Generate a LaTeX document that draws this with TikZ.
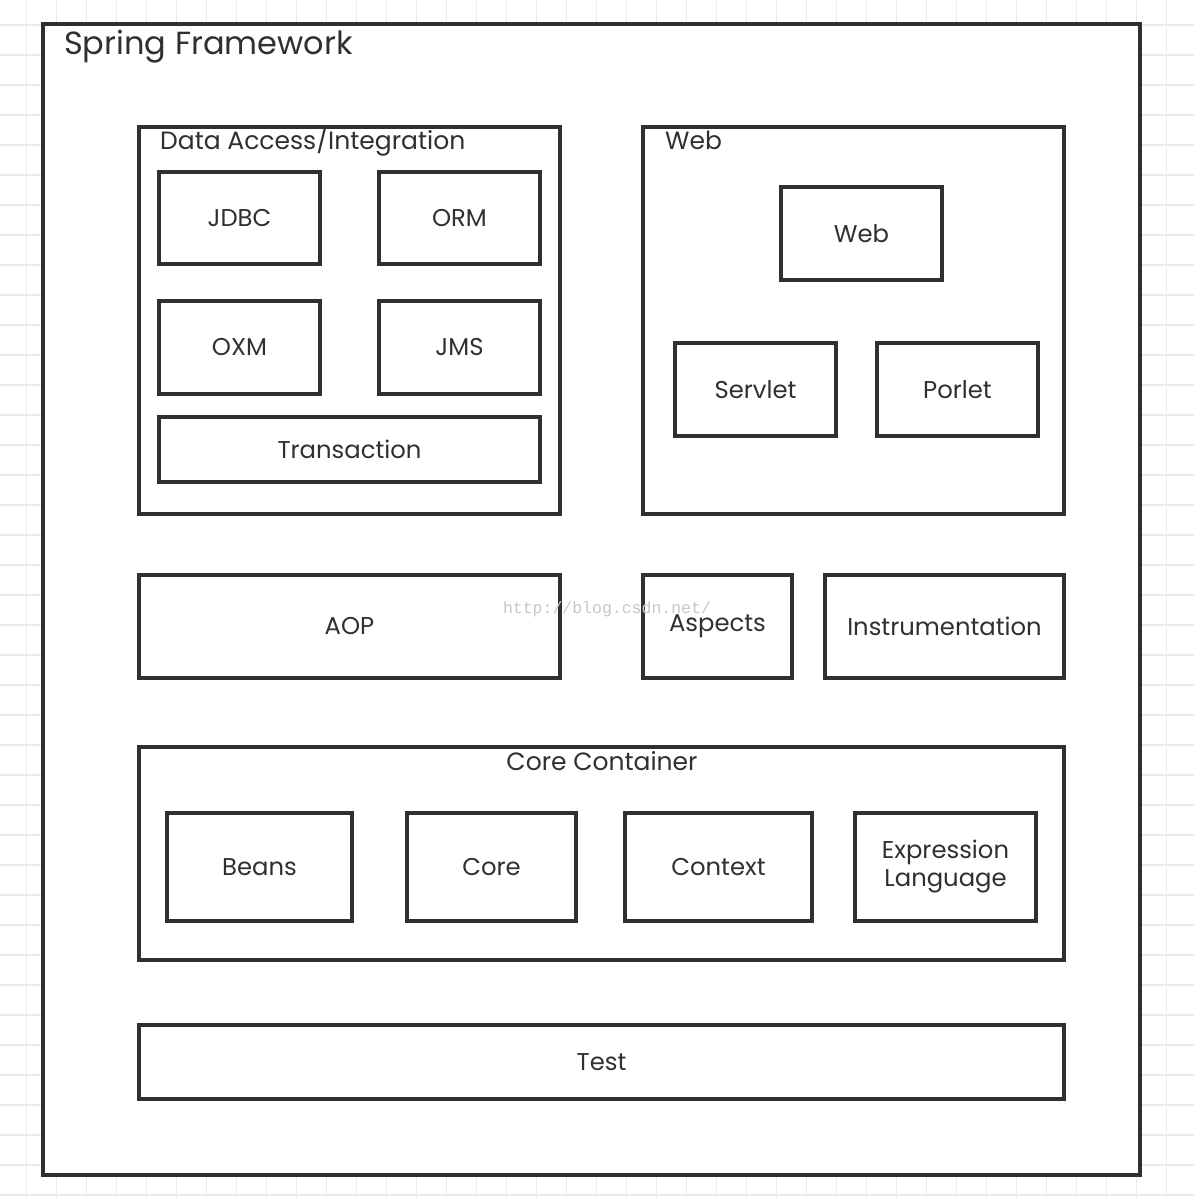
\documentclass[tikz,border=0pt]{standalone}
\usepackage{fontspec}
\setmainfont{Poppins}
\newfontfamily\wmfont{Liberation Mono}
\definecolor{linec}{HTML}{303030}
\definecolor{gridc}{HTML}{EBEBEB}
\tikzset{
 box/.style={draw=linec,line width=3.8pt,fill=white,inner sep=0pt,text=linec,
  font=\fontsize{24.3}{28}\selectfont,align=center},
 grp/.style={draw=linec,line width=3.8pt,inner sep=0pt},
 lbl/.style={anchor=base west,inner sep=0pt,text=linec,font=\fontsize{25}{29}\selectfont},
}
\begin{document}
\begin{tikzpicture}[x=1pt,y=-1pt]
 \useasboundingbox (0,0) rectangle (1194,1198);
 \fill[white] (0,0) rectangle (1194,1198);
 % grid
 \foreach \i in {0,...,39} {
  \draw[gridc,line width=1.5pt] ({26.7+30*\i},0)--++(0,1198);
  \draw[gridc,line width=1.5pt] (0,{25+30*\i})--++(1194,0);
 }
 \node[grp,fill=white,minimum width=1097pt,minimum height=1151pt] (spring) at (591.5,599.5) {};
 \node[lbl,font=\fontsize{32}{36}\selectfont] (springT) at (64,55) {Spring Framework};
 % Data Access/Integration
 \node[grp,minimum width=421pt,minimum height=387pt] (da) at (349.5,320.5) {};
 \node[lbl] (daT) at (160,150) {Data Access/Integration};
 \node[box,minimum width=161pt,minimum height=92pt] (jdbc) at (239.5,218) {JDBC};
 \node[box,minimum width=161pt,minimum height=92pt] (orm) at (459.5,218) {ORM};
 \node[box,minimum width=161pt,minimum height=93pt] (oxm) at (239.5,347.5) {OXM};
 \node[box,minimum width=161pt,minimum height=93pt] (jms) at (459.5,347.5) {JMS};
 \node[box,minimum width=381pt,minimum height=65pt] (trans) at (349.5,449.5) {Transaction};
 % Web
 \node[grp,minimum width=421pt,minimum height=387pt] (web) at (853.5,320.5) {};
 \node[lbl] (webT) at (665,150) {Web};
 \node[box,minimum width=161pt,minimum height=93pt] (webm) at (861.5,233.5) {Web};
 \node[box,minimum width=161pt,minimum height=93pt] (servlet) at (755.5,389.5) {Servlet};
 \node[box,minimum width=161pt,minimum height=93pt] (porlet) at (957.5,389.5) {Porlet};
 % AOP
 \node[box,minimum width=421pt,minimum height=103pt] (aop) at (349.5,626.5) {AOP};
 \node[box,minimum width=149pt,minimum height=103pt] (aspects) at (717.5,626.5) {Aspects};
 \node[box,minimum width=239pt,minimum height=103pt] (instr) at (944.5,626.5) {Instrumentation};
 \node[text=black!22,font=\wmfont\fontsize{16.5}{18}\selectfont,inner sep=0pt] (wm) at (607,609) {http://blog.csdn.net/};
 % Core Container
 \node[grp,minimum width=925pt,minimum height=213pt] (cc) at (601.5,853.5) {};
 \node[lbl,anchor=base] (ccT) at (602,770) {Core Container};
 \node[box,minimum width=185pt,minimum height=108pt] (beans) at (259.5,867) {Beans};
 \node[box,minimum width=169pt,minimum height=108pt] (core) at (491.5,867) {Core};
 \node[box,minimum width=187pt,minimum height=108pt] (context) at (718.5,867) {Context};
 \node[box,minimum width=181pt,minimum height=108pt] (el) at (945.5,867) {Expression\\Language};
 % Test
 \node[box,minimum width=925pt,minimum height=74pt] (test) at (601.5,1062) {Test};
\end{tikzpicture}
\end{document}
